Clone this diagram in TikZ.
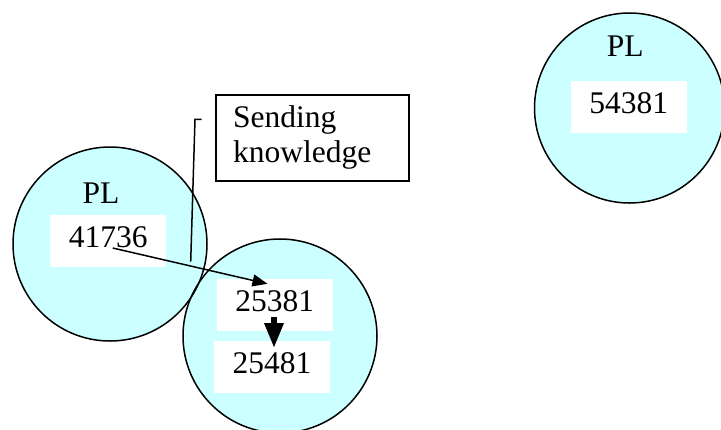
\documentclass[tikz,border=0pt]{standalone}
\usepackage{fontspec}
\setmainfont{Liberation Serif}
\usetikzlibrary{arrows.meta,calc}
\definecolor{plcyan}{RGB}{204,255,255}
\begin{document}
\begin{tikzpicture}[x=1bp,y=-1bp,
  font=\fontsize{31.5bp}{35bp}\selectfont,
  plfill/.style={circle, fill=plcyan, minimum size=194bp, inner sep=0pt},
  outline/.style={draw=black, line width=1.5bp},
  numbox/.style={fill=white, minimum width=116bp, minimum height=52bp, inner sep=0pt, text height=21.3bp, text depth=9bp},
  pllabel/.style={anchor=base, inner sep=0pt},
  callbox/.style={draw=black, line width=1.5bp, minimum width=193bp, minimum height=86bp, inner xsep=17bp, text width=159bp, align=left},
  thin/.style={draw=black, line width=1.5bp}
]
\useasboundingbox (0,0) rectangle (721,429);
% circles (fills first, outlines after)
\node[plfill] (cL) at (110,244) {};
\node[plfill] (cB) at (280,336) {};
\node[plfill, minimum size=190bp] (cR) at (629.5,108) {};
\draw[outline] (cL.center) circle[radius=97];
\draw[outline] (cB.center) circle[radius=97];
\draw[outline] (cR.center) circle[radius=95];
% labels
\node[pllabel] (plL) at (101,203.3) {PL};
\node[pllabel] (plR) at (625.3,56.7) {PL};
% number boxes
\node[numbox] (n1) at (108.3,241) {41736};
\node[numbox] (n2) at (274.7,305) {25381};
\node[numbox] (n3) at (272,367) {25481};
\node[numbox] (n4) at (628.8,107.2) {54381};
% callout
\node[callbox] (call) at (312.7,137.9) {Sending\\knowledge};
\coordinate (c1) at (190.7,261.7);
\coordinate (c2) at (195,119.3);
\coordinate (c3) at (201.5,119.3);
\draw[thin] (c1) -- (c2) -- (c3);
% arrows
\coordinate (a1) at ($(n1.center)+(4.4,7)$);
\coordinate (a2) at ($(n2.north west)+(51,5)$);
\draw[thin, -{Triangle[length=15bp,width=12bp]}] (a1) -- (a2);
\coordinate (b1) at ($(n2.center)+(-0.7,12)$);
\coordinate (b2) at ($(n3.north)+(2,6.3)$);
\draw[draw=black, line width=6bp, -{Triangle[length=24bp,width=20bp,line width=0pt]}] (b1) -- (b2);
\end{tikzpicture}
\end{document}
